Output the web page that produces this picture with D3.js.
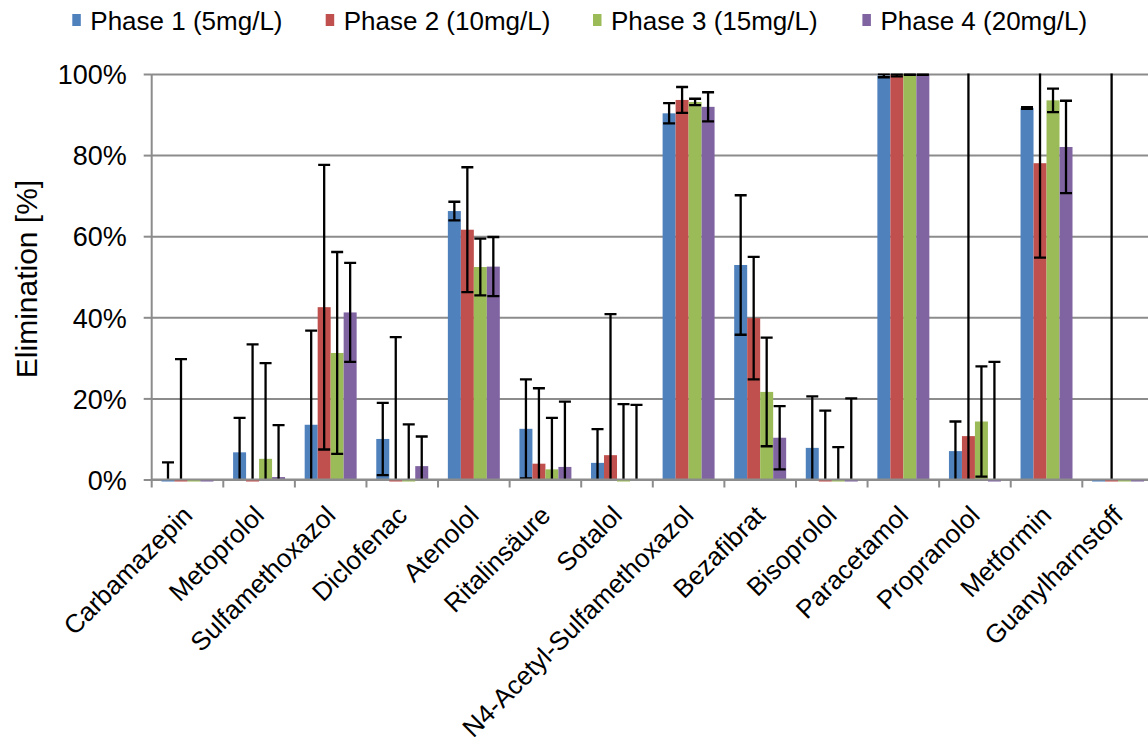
<!DOCTYPE html>
<html>
<head>
<meta charset="utf-8">
<script src="https://cdn.jsdelivr.net/npm/d3@7"></script>
<style>
  body { margin: 0; background: #fff; }
  text { font-family: Arial, "Liberation Sans", sans-serif; fill: #000; }
</style>
</head>
<body>
<svg id="chart" width="1148" height="737"></svg>
<script>
// Compounds on the category axis
const compounds = [
  "Carbamazepin", "Metoprolol", "Sulfamethoxazol", "Diclofenac", "Atenolol",
  "Ritalinsäure", "Sotalol", "N4-Acetyl-Sulfamethoxazol", "Bezafibrat",
  "Bisoprolol", "Paracetamol", "Propranolol", "Metformin", "Guanylharnstoff"
];

// Dosing phases (series)
const phases = ["Phase 1 (5mg/L)", "Phase 2 (10mg/L)", "Phase 3 (15mg/L)", "Phase 4 (20mg/L)"];
const phaseColors = ["#4F81BD", "#C0504D", "#9BBB59", "#8064A2"];

// Mean elimination [%] per compound, one array per phase
const phase1 = [-0.5, 6.7, 13.5, 10.0, 66.2, 12.5, 4.1, 90.3, 52.9, 7.8, 99.6, 7.0, 91.6, -0.5];
const phase2 = [-0.5, -0.5, 42.5, -0.5, 61.6, 3.9, 6.0, 93.6, 39.8, -0.5, 99.7, 10.7, 78.0, -0.5];
const phase3 = [-0.5, 5.1, 31.2, -0.5, 52.4, 2.5, -0.5, 93.1, 21.6, -0.5, 99.9, 14.3, 93.5, -0.5];
const phase4 = [-0.5, 0.6, 41.2, 3.3, 52.5, 3.1, 0.0, 91.9, 10.3, -0.5, 99.9, -0.5, 82.0, -0.5];

// Standard deviation (symmetric error bars) per compound, one array per phase
const phase1Err = [4.7, 8.5, 23.2, 8.9, 2.3, 12.2, 8.3, 2.5, 17.2, 12.7, 0.4, 7.3, 0.2, 0];
const phase2Err = [30.2, 33.8, 35.1, 35.6, 15.4, 18.6, 34.8, 3.2, 15.1, 17.5, 0.3, 120, 23.3, 150];
const phase3Err = [0, 23.6, 24.9, 14.1, 7.0, 12.7, 19.1, 0.8, 13.4, 8.5, 0.1, 13.6, 2.9, 0];
const phase4Err = [0, 12.8, 12.2, 7.3, 7.3, 16.1, 18.4, 3.6, 7.8, 20.5, 0.1, 29.5, 11.4, 0];

// Value axis ticks
const yTicks = [0, 20, 40, 60, 80, 100];

const values = [phase1, phase2, phase3, phase4];
const errors = [phase1Err, phase2Err, phase3Err, phase4Err];

const records = [];
compounds.forEach((c, i) => {
  phases.forEach((p, j) => {
    records.push({ compound: c, phase: p, idx: j, value: values[j][i], err: errors[j][i] });
  });
});

const svg = d3.select("#chart");
const plotLeft = 151.7, plotRight = 1153.9, plotTop = 74, plotBottom = 479.5;

const x = d3.scaleBand().domain(compounds).range([plotLeft, plotRight]).paddingInner(0).paddingOuter(0);
const xInner = d3.scaleBand().domain(phases)
  .range([x.bandwidth() * 0.137, x.bandwidth() * 0.863]).padding(0);
const y = d3.scaleLinear().domain([0, 100]).range([plotBottom, plotTop]);

const defs = svg.append("defs");
defs.append("clipPath").attr("id", "barClip")
  .append("rect").attr("x", plotLeft).attr("y", plotTop)
  .attr("width", plotRight - plotLeft).attr("height", plotBottom - plotTop + 3);
defs.append("clipPath").attr("id", "errClip")
  .append("rect").attr("x", plotLeft).attr("y", plotTop - 0.5)
  .attr("width", plotRight - plotLeft).attr("height", plotBottom - plotTop + 0.5);

const gridColor = "#8c8c8c";

// Horizontal gridlines
svg.append("g")
  .attr("transform", `translate(${plotLeft},0)`)
  .call(d3.axisLeft(y).tickValues(yTicks).tickSize(-(plotRight - plotLeft)).tickFormat(""))
  .call(g => g.select(".domain").remove())
  .call(g => g.selectAll("line").attr("stroke", gridColor).attr("stroke-width", 2));

// Bars
svg.append("g").attr("clip-path", "url(#barClip)")
  .selectAll("rect").data(records).join("rect")
  .attr("x", d => x(d.compound) + xInner(d.phase))
  .attr("width", xInner.bandwidth())
  .attr("y", d => y(Math.max(d.value, 0)))
  .attr("height", d => Math.abs(y(d.value) - y(0)))
  .attr("fill", d => phaseColors[d.idx]);

// Error bars
const capHalf = xInner.bandwidth() / 2 - 0.5;
const eg = svg.append("g").attr("clip-path", "url(#errClip)")
  .attr("stroke", "#000").attr("stroke-width", 2.3)
  .selectAll("g").data(records.filter(d => d.err > 0)).join("g")
  .attr("transform", d => `translate(${x(d.compound) + xInner(d.phase) + xInner.bandwidth() / 2},0)`);
eg.append("line")
  .attr("y1", d => y(d.value - d.err)).attr("y2", d => y(d.value + d.err));
eg.append("line")
  .attr("x1", -capHalf).attr("x2", capHalf)
  .attr("y1", d => y(d.value + d.err)).attr("y2", d => y(d.value + d.err));
eg.append("line")
  .attr("x1", -capHalf).attr("x2", capHalf)
  .attr("y1", d => y(d.value - d.err)).attr("y2", d => y(d.value - d.err));

// Value axis with labels
svg.append("g")
  .attr("transform", `translate(${plotLeft},0)`)
  .call(d3.axisLeft(y).tickValues(yTicks).tickSize(8).tickPadding(17).tickFormat(d => d + "%"))
  .call(g => g.select(".domain").remove())
  .call(g => g.selectAll("line").attr("stroke", gridColor).attr("stroke-width", 2))
  .call(g => g.selectAll("text").attr("font-size", 27).attr("dy", "0.36em")
    .style("font-family", "Arial, 'Liberation Sans', sans-serif"));

svg.append("line")
  .attr("x1", plotLeft).attr("x2", plotLeft).attr("y1", plotTop).attr("y2", plotBottom + 8)
  .attr("stroke", gridColor).attr("stroke-width", 2);

// Category axis line and boundary ticks
svg.append("line")
  .attr("x1", plotLeft).attr("x2", plotRight).attr("y1", plotBottom).attr("y2", plotBottom)
  .attr("stroke", gridColor).attr("stroke-width", 2);
svg.append("g").selectAll("line").data(compounds).join("line")
  .attr("x1", d => x(d) + x.bandwidth()).attr("x2", d => x(d) + x.bandwidth())
  .attr("y1", plotBottom).attr("y2", plotBottom + 8)
  .attr("stroke", gridColor).attr("stroke-width", 2);

// Rotated category labels
svg.append("g").selectAll("text").data(compounds).join("text")
  .attr("transform", d => `translate(${x(d) + x.bandwidth() / 2 + 6.5},517) rotate(-45)`)
  .attr("text-anchor", "end")
  .attr("font-size", 26)
  .text(d => d);

// Axis title
svg.append("text")
  .attr("transform", "translate(36.5,279) rotate(-90)")
  .attr("text-anchor", "middle")
  .attr("font-size", 30)
  .text("Elimination [%]");

// Legend
const legendX = [72.3, 325.7, 593, 862.4];
const lg = svg.append("g").selectAll("g").data(phases).join("g")
  .attr("transform", (d, i) => `translate(${legendX[i]},0)`);
lg.append("rect").attr("x", 0).attr("y", 14).attr("width", 8.5).attr("height", 12)
  .attr("fill", (d, i) => phaseColors[i]);
lg.append("text").attr("x", 18).attr("y", 29.5).attr("font-size", 26).text(d => d);
</script>
</body>
</html>
